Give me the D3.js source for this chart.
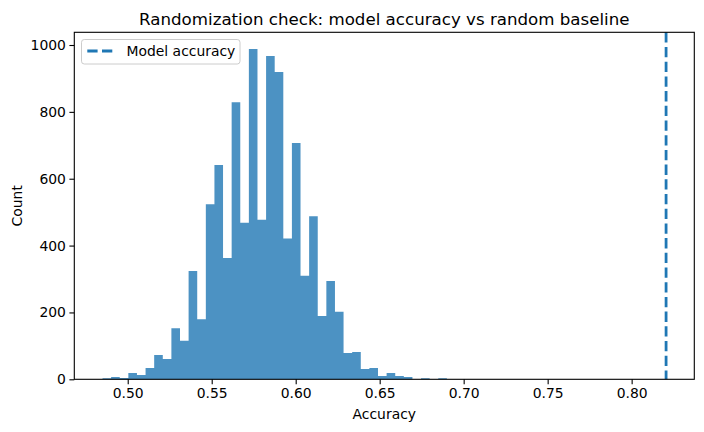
<!DOCTYPE html>
<html>
<head>
<meta charset="utf-8">
<script src="https://cdn.jsdelivr.net/npm/d3@7"></script>
<style>
  html, body { margin: 0; padding: 0; background: #fff; }
  svg { display: block; font-family: "DejaVu Sans", sans-serif; }
</style>
</head>
<body>
<svg id="chart" width="704" height="432"></svg>
<script>
// ---- data ----
const binMin = 0.485;
const binMax = 0.690;
const binCount = 40;
const counts = [3, 7, 4, 19, 13, 34, 73, 61, 153, 115,
                324, 180, 524, 641, 363, 829, 468, 988, 477, 967,
                919, 421, 707, 310, 488, 189, 294, 202, 79, 82,
                31, 34, 10, 19, 10, 7, 0, 3, 0, 3];
const modelAccuracy = 0.8205;
const xTicks = [0.50, 0.55, 0.60, 0.65, 0.70, 0.75, 0.80];
const yTicks = [0, 200, 400, 600, 800, 1000];
const titleText = "Randomization check: model accuracy vs random baseline";
const xLabel = "Accuracy";
const yLabel = "Count";
const legendLabel = "Model accuracy";

// ---- layout ----
const L = 74.3, R = 694.3, T = 32.3, B = 379.3;
const svg = d3.select("#chart");

const x = d3.scaleLinear().domain([0.4682, 0.8373]).range([L, R]);
const y = d3.scaleLinear().domain([0, 1038]).range([B, T]);

const binW = (binMax - binMin) / binCount;
const bins = counts.map((c, i) => ({ x0: binMin + i * binW, x1: binMin + (i + 1) * binW, c }));

// bars: one path of rectangles, so touching bars are rasterised together (no seams)
const p = d3.path();
bins.forEach(d => {
  if (d.c > 0) p.rect(x(d.x0), y(d.c), x(d.x1) - x(d.x0), y(0) - y(d.c));
});
svg.append("path").attr("d", p.toString())
  .attr("fill", "#1f77b4").attr("fill-opacity", 0.8);

// model accuracy line
svg.append("line")
  .attr("x1", x(modelAccuracy)).attr("x2", x(modelAccuracy))
  .attr("y1", T).attr("y2", B)
  .attr("stroke", "#1f77b4").attr("stroke-width", 2.78)
  .attr("stroke-dasharray", "10.3,4.4");

// axes
const xAxis = d3.axisBottom(x).tickValues(xTicks).tickFormat(d3.format(".2f"))
  .tickSize(4.9).tickPadding(3.5);
const yAxis = d3.axisLeft(y).tickValues(yTicks).tickFormat(d3.format("d"))
  .tickSize(4.9).tickPadding(3.5);

const gx = svg.append("g").attr("transform", `translate(0,${B})`).call(xAxis);
const gy = svg.append("g").attr("transform", `translate(${L},0)`).call(yAxis);
[gx, gy].forEach(g => {
  g.select(".domain").remove();
  g.selectAll(".tick line").attr("stroke", "#000").attr("stroke-width", 1.1);
  g.selectAll(".tick text").attr("fill", "#000")
    .style("font-family", "DejaVu Sans, sans-serif").style("font-size", "13.9px");
});

// spines
svg.append("rect").attr("x", L).attr("y", T).attr("width", R - L).attr("height", B - T)
  .attr("fill", "none").attr("stroke", "#000").attr("stroke-width", 1.1);

// labels
svg.append("text").attr("x", (L + R) / 2).attr("y", 25)
  .attr("text-anchor", "middle").style("font-size", "16.67px").attr("fill", "#000")
  .text(titleText);
svg.append("text").attr("x", (L + R) / 2).attr("y", 419)
  .attr("text-anchor", "middle").style("font-size", "13.9px").attr("fill", "#000")
  .text(xLabel);
svg.append("text")
  .attr("transform", `translate(22,${(T + B) / 2}) rotate(-90)`)
  .attr("text-anchor", "middle").style("font-size", "13.9px").attr("fill", "#000")
  .text(yLabel);

// legend
const lg = svg.append("g");
lg.append("rect").attr("x", 81.5).attr("y", 39.5).attr("width", 158.5).attr("height", 24.5)
  .attr("rx", 2.8).attr("fill", "#fff").attr("fill-opacity", 0.8)
  .attr("stroke", "#cccccc").attr("stroke-width", 1);
lg.append("line").attr("x1", 87.3).attr("x2", 114.3).attr("y1", 51).attr("y2", 51)
  .attr("stroke", "#1f77b4").attr("stroke-width", 2.78).attr("stroke-dasharray", "10.3,4.4");
lg.append("text").attr("x", 126.5).attr("y", 56).style("font-size", "13.9px").attr("fill", "#000")
  .text(legendLabel);
</script>
</body>
</html>
